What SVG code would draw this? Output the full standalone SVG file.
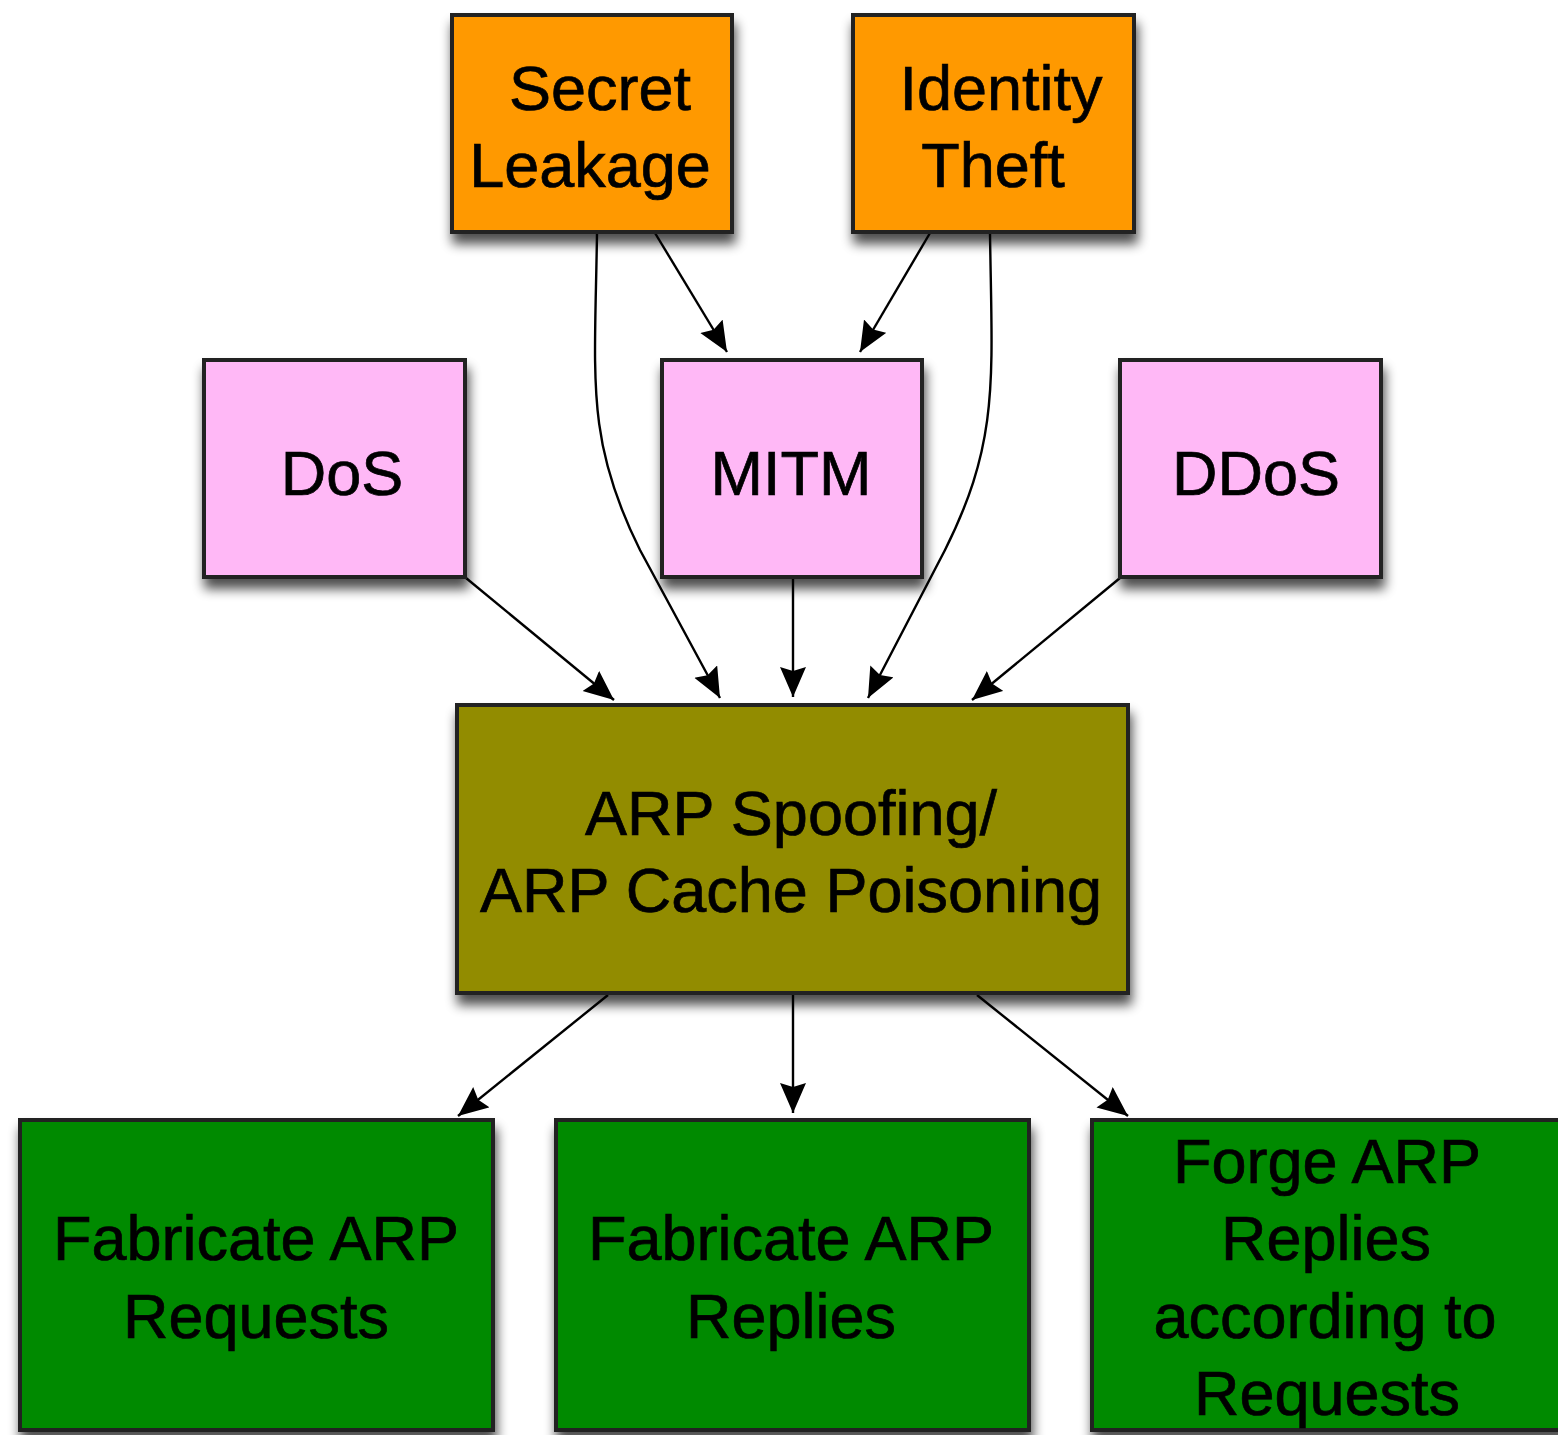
<svg xmlns="http://www.w3.org/2000/svg" width="1558" height="1435" viewBox="0 0 1558 1435">
  <style>
    .box { stroke: #222; stroke-width: 4; filter: url(#shadow); }
    .orange { fill: #FF9900; }
    .pink { fill: #FFB8F6; }
    .olive { fill: #928C00; }
    .green { fill: #008A00; }
    .label { font-family: "Liberation Sans", Arial, Helvetica, sans-serif; font-size: 63px; fill: #000; stroke: #000; stroke-width: 0.7; text-anchor: middle; }
    .edge { fill: none; stroke: #000; stroke-width: 2.4; marker-end: url(#head); }
  </style>
  <defs>
    <filter id="shadow" x="-10%" y="-10%" width="125%" height="135%">
      <feGaussianBlur in="SourceAlpha" stdDeviation="6"/>
      <feOffset dx="2" dy="10" result="blur"/>
      <feComponentTransfer><feFuncA type="linear" slope="0.7"/></feComponentTransfer>
      <feMerge><feMergeNode/><feMergeNode in="SourceGraphic"/></feMerge>
    </filter>
    <marker id="head" markerUnits="userSpaceOnUse" markerWidth="34" markerHeight="28" refX="30" refY="13" orient="auto">
      <path d="M0,0 L30,13 L0,26 L4,13 Z" fill="#000"/>
    </marker>
  </defs>

  <rect width="1558" height="1435" fill="#fff"/>

  <g id="connectors">
    <path class="edge" d="M597,233 C595,380 585,440 640,550 L720,698"/>
    <path class="edge" d="M655,233 L727,352"/>
    <path class="edge" d="M930,233 L860,352"/>
    <path class="edge" d="M990,233 C992,380 1000,440 945,550 L868,698"/>
    <path class="edge" d="M466,578 L614,700"/>
    <path class="edge" d="M793,578 L793,697"/>
    <path class="edge" d="M1120,578 L972,700"/>
    <path class="edge" d="M608,995 L458,1116"/>
    <path class="edge" d="M793,995 L793,1113"/>
    <path class="edge" d="M977,995 L1128,1116"/>
  </g>

  <g id="secret-leakage">
    <rect class="box orange" x="452" y="15" width="280" height="217"/>
    <text class="label" x="600" y="110">Secret</text>
    <text class="label" x="590" y="187">Leakage</text>
  </g>

  <g id="identity-theft">
    <rect class="box orange" x="853" y="15" width="281" height="217"/>
    <text class="label" x="1001" y="110">Identity</text>
    <text class="label" x="993" y="187">Theft</text>
  </g>

  <g id="dos">
    <rect class="box pink" x="204" y="360" width="261" height="217"/>
    <text class="label" x="342" y="495">DoS</text>
  </g>

  <g id="mitm">
    <rect class="box pink" x="662" y="360" width="260" height="217"/>
    <text class="label" x="791" y="495">MITM</text>
  </g>

  <g id="ddos">
    <rect class="box pink" x="1120" y="360" width="261" height="217"/>
    <text class="label" x="1256" y="495">DDoS</text>
  </g>

  <g id="arp-spoofing">
    <rect class="box olive" x="457" y="705" width="671" height="288"/>
    <text class="label" x="791" y="835">ARP Spoofing/</text>
    <text class="label" x="791" y="912">ARP Cache Poisoning</text>
  </g>

  <g id="fabricate-requests">
    <rect class="box green" x="20" y="1120" width="473" height="310"/>
    <text class="label" x="256" y="1260">Fabricate ARP</text>
    <text class="label" x="256" y="1338">Requests</text>
  </g>

  <g id="fabricate-replies">
    <rect class="box green" x="556" y="1120" width="473" height="310"/>
    <text class="label" x="791" y="1260">Fabricate ARP</text>
    <text class="label" x="791" y="1338">Replies</text>
  </g>

  <g id="forge-replies">
    <rect class="box green" x="1092" y="1120" width="473" height="310"/>
    <text class="label" x="1327" y="1183">Forge ARP</text>
    <text class="label" x="1326" y="1260">Replies</text>
    <text class="label" x="1325" y="1338">according to</text>
    <text class="label" x="1327" y="1415">Requests</text>
  </g>
</svg>
